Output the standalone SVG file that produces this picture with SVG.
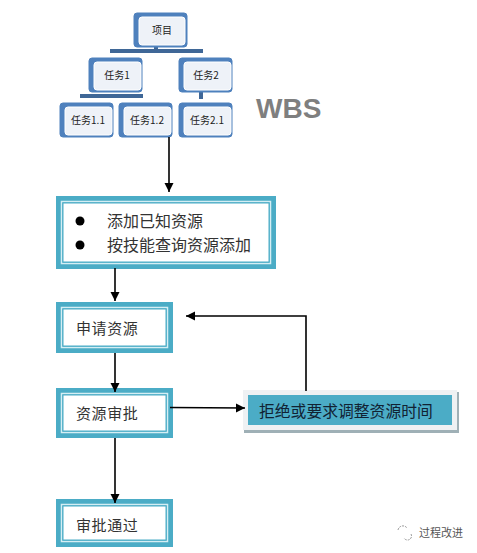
<svg xmlns="http://www.w3.org/2000/svg" width="477" height="553" viewBox="0 0 477 553">
<style>
text{font-family:"Noto Sans CJK SC","Liberation Sans",sans-serif;fill:#333}
.o{fill:#4f81bd;stroke:#4f81bd;stroke-width:1}
.i{fill:#eef2f8;stroke:#fff;stroke-width:1}
.ot{font-size:10px;text-anchor:middle;fill:#222}
.bar{fill:#3f6797}
.t{fill:#4bacc6}
.w{fill:none;stroke:#d5eef4;stroke-width:1.5}
.f{fill:#fff;stroke:#4bacc6;stroke-width:1}
.bt{font-size:15px;letter-spacing:.6px;fill:#333}
.c{fill:none;stroke:#000;stroke-width:1.6}
</style>
<defs>
<marker id="a" markerUnits="userSpaceOnUse" markerWidth="10" markerHeight="10" refX="9" refY="4.5" orient="auto"><path d="M0 0L9 4.5L0 9Z" fill="#000"/></marker>
</defs>
<rect width="477" height="553" fill="#fff"/>
<g id="org-links">
<rect class="bar" x="110" y="49" width="93" height="4"/>
<rect class="bar" x="154" y="46" width="4" height="4"/>
<rect class="bar" x="80" y="94" width="63" height="4"/>
<rect class="bar" x="199" y="91" width="4" height="8"/>
</g>
<g id="n-project"><rect class="o" x="134" y="13" width="53" height="34" rx="3"/><rect class="i" x="139" y="17" width="46" height="28" rx="3"/><text class="ot" x="162" y="34">项目</text></g>
<g id="n-t1"><rect class="o" x="89" y="58" width="53" height="34" rx="3"/><rect class="i" x="94" y="62" width="47" height="28" rx="3"/><text class="ot" x="117" y="79">任务1</text></g>
<g id="n-t2"><rect class="o" x="179" y="58" width="53" height="34" rx="3"/><rect class="i" x="184" y="62" width="47" height="28" rx="3"/><text class="ot" x="206" y="79">任务2</text></g>
<g id="n-t11"><rect class="o" x="60" y="103" width="53" height="34" rx="3"/><rect class="i" x="65" y="107" width="47" height="28" rx="3"/><text class="ot" x="88" y="124">任务1.1</text></g>
<g id="n-t12"><rect class="o" x="119" y="103" width="53" height="34" rx="3"/><rect class="i" x="124" y="107" width="47" height="28" rx="3"/><text class="ot" x="147" y="124">任务1.2</text></g>
<g id="n-t21"><rect class="o" x="179" y="103" width="53" height="34" rx="3"/><rect class="i" x="184" y="107" width="47" height="28" rx="3"/><text class="ot" x="207" y="124">任务2.1</text></g>
<g id="n-wbs"><text x="256" y="118" style="font-family:'Liberation Sans',sans-serif;font-weight:bold;font-size:28px;fill:#7f7f7f">WBS</text></g>
<g id="n-add">
<rect class="t" x="56" y="196" width="220" height="73"/>
<rect class="w" x="61.500" y="201.500" width="209" height="62"/>
<rect class="f" x="63" y="203" width="206" height="59"/>
<circle cx="80" cy="221" r="4.500" fill="#000"/><circle cx="80" cy="245" r="4.500" fill="#000"/>
<text x="107" y="227" style="font-size:16px;fill:#333">添加已知资源</text>
<text x="107" y="251" style="font-size:16px;fill:#333">按技能查询资源添加</text>
</g>
<g id="n-apply"><rect class="t" x="56" y="302" width="117" height="51"/><rect class="w" x="61.500" y="307.500" width="106" height="40"/><rect class="f" x="63" y="309" width="103" height="37"/><text class="bt" x="76" y="334">申请资源</text></g>
<g id="n-review"><rect class="t" x="56" y="388" width="117" height="50"/><rect class="w" x="61.500" y="393.500" width="106" height="39"/><rect class="f" x="63" y="395" width="103" height="36"/><text class="bt" x="76" y="419">资源审批</text></g>
<g id="n-pass"><rect class="t" x="56" y="499" width="117" height="48"/><rect class="w" x="61.500" y="504.500" width="106" height="37"/><rect class="f" x="63" y="506" width="103" height="34"/><text class="bt" x="76" y="531">审批通过</text></g>
<g id="n-reject"><rect x="244" y="392" width="215" height="41" fill="#9fb0b6"/><rect x="243" y="390" width="214" height="40" fill="#eef1f3"/><rect x="248" y="395" width="204" height="30" fill="#4bacc6"/><text x="259" y="417" style="font-size:15.800px;fill:#123">拒绝或要求调整资源时间</text></g>
<g id="connectors">
<path class="c" d="M169 137V192" marker-end="url(#a)"/>
<path class="c" d="M115 268V301" marker-end="url(#a)"/>
<path class="c" d="M115 353V392" marker-end="url(#a)"/>
<path class="c" d="M115 438V503" marker-end="url(#a)"/>
<path class="c" d="M170 407.500L245 408" marker-end="url(#a)"/>
<path class="c" d="M306 391V316H186" marker-end="url(#a)"/>
</g>
<g id="watermark">
<path d="M398 530a5 5 0 0 1 9-2M411 534a4 4 0 0 1-7 4" fill="none" stroke="#999" stroke-width="1" stroke-dasharray="2 1"/>
<text x="419" y="537" style="font-size:11px;fill:#555">过程改进</text>
</g>
</svg>
